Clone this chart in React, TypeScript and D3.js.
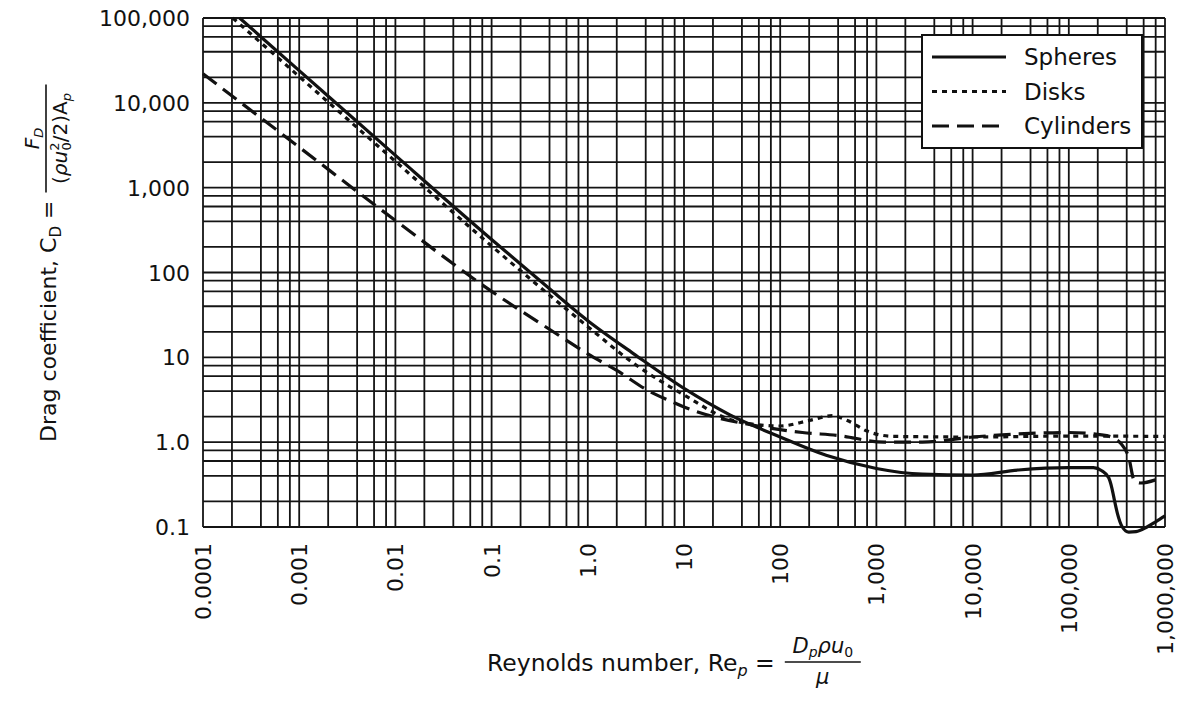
import React, { useEffect, useRef } from 'react';
import * as d3 from 'd3';

const WIDTH = 1185;
const HEIGHT = 711;

// axis ticks
const xTickValues = [1e-4, 1e-3, 1e-2, 1e-1, 1, 10, 100, 1e3, 1e4, 1e5, 1e6];
const xTickLabels = ['0.0001', '0.001', '0.01', '0.1', '1.0', '10', '100', '1,000', '10,000', '100,000', '1,000,000'];
const yTickValues = [0.1, 1, 10, 100, 1e3, 1e4, 1e5];
const yTickLabels = ['0.1', '1.0', '10', '100', '1,000', '10,000', '100,000'];
const gridMultipliers = [1, 2, 4, 6, 8];

// Spheres (solid)
const sphereRe = [2.4e-4, 1e-3, 1e-2, 1e-1, 0.3, 1, 3, 10, 30, 100, 300, 1000, 3000, 1e4, 3e4, 1e5, 1.8e5, 2.2e5, 2.6e5, 2.8e5, 3e5, 3.2e5, 3.6e5, 4.2e5, 5e5, 6.5e5, 8e5, 1e6];
const sphereCd = [100000, 24000, 2400, 245, 85, 27, 11, 4.3, 2.1, 1.15, 0.7, 0.49, 0.42, 0.41, 0.47, 0.5, 0.5, 0.46, 0.38, 0.29, 0.2, 0.145, 0.1, 0.087, 0.088, 0.1, 0.115, 0.135];

// Disks (dotted)
const diskRe = [2.04e-4, 1e-3, 1e-2, 0.1, 1, 3, 10, 30, 60, 100, 200, 350, 500, 800, 1500, 1e4, 1e5, 1e6];
const diskCd = [100000, 20400, 2040, 205, 23, 8.5, 3.6, 1.85, 1.6, 1.55, 1.8, 2.05, 1.8, 1.35, 1.17, 1.15, 1.18, 1.17];

// Cylinders (dashed)
const cylRe = [1e-4, 1e-3, 1e-2, 0.1, 0.41, 1, 2, 4.5, 7, 10, 22, 50, 170, 400, 1200, 3000, 1e4, 5e4, 1e5, 2.2e5, 3e5, 3.5e5, 4.2e5, 4.8e5, 5.6e5, 8e5];
const cylCd = [22000, 3000, 410, 60, 21, 11, 7.0, 3.9, 3.1, 2.6, 1.95, 1.6, 1.3, 1.2, 1.0, 1.0, 1.15, 1.28, 1.3, 1.22, 1.1, 0.96, 0.66, 0.35, 0.33, 0.36];

const FONT = '"DejaVu Sans", sans-serif';
const INK = '#111';

export default function App() {
  const svgRef = useRef<SVGSVGElement | null>(null);

  useEffect(() => {
    if (!svgRef.current) return;
    const svg = d3.select(svgRef.current);
    svg.selectAll('*').remove();

    const x = d3.scaleLog().domain([1e-4, 1e6]).range([203, 1165]);
    const y = d3.scaleLog().domain([0.1, 1e5]).range([527, 18]);

    // grid lines at 1,2,4,6,8 of each decade
    const gridX: number[] = [];
    for (let e = -4; e < 6; e++) gridMultipliers.forEach(m => gridX.push(m * Math.pow(10, e)));
    gridX.push(1e6);
    const gridY: number[] = [];
    for (let e = -1; e < 5; e++) gridMultipliers.forEach(m => gridY.push(m * Math.pow(10, e)));
    gridY.push(1e5);

    const grid = svg.append('g').attr('stroke', '#141414').attr('stroke-width', 1.8);
    grid.selectAll('.vx')
      .data(gridX)
      .enter()
      .append('line')
      .attr('x1', d => x(d)).attr('x2', d => x(d))
      .attr('y1', y(1e5)).attr('y2', y(0.1));
    grid.selectAll('.hy')
      .data(gridY)
      .enter()
      .append('line')
      .attr('y1', d => y(d)).attr('y2', d => y(d))
      .attr('x1', x(1e-4)).attr('x2', x(1e6));

    // tick labels
    svg.append('g')
      .selectAll('text')
      .data(yTickValues)
      .enter()
      .append('text')
      .attr('x', 190)
      .attr('y', d => y(d) + 8)
      .attr('text-anchor', 'end')
      .attr('font-family', FONT)
      .attr('font-size', 22)
      .attr('fill', INK)
      .text((d, i) => yTickLabels[i]);

    svg.append('g')
      .selectAll('text')
      .data(xTickValues)
      .enter()
      .append('text')
      .attr('transform', d => `translate(${x(d) + 8},543) rotate(-90)`)
      .attr('text-anchor', 'end')
      .attr('font-family', FONT)
      .attr('font-size', 22)
      .attr('fill', INK)
      .text((d, i) => xTickLabels[i]);

    // curves
    const line = d3.line<[number, number]>()
      .x(d => x(d[0]))
      .y(d => y(d[1]))
      .curve(d3.curveMonotoneX);

    const series = [
      { name: 'Spheres', re: sphereRe, cd: sphereCd, dash: null as string | null },
      { name: 'Disks', re: diskRe, cd: diskCd, dash: '5,5' },
      { name: 'Cylinders', re: cylRe, cd: cylCd, dash: '17,8' }
    ];

    series.forEach(s => {
      const pts: [number, number][] = s.re.map((r, i) => [r, s.cd[i]]);
      svg.append('path')
        .attr('d', line(pts) || '')
        .attr('fill', 'none')
        .attr('stroke', INK)
        .attr('stroke-width', 3.2)
        .attr('stroke-dasharray', s.dash)
        .attr('stroke-linejoin', 'round');
    });

    // legend
    const lg = svg.append('g');
    lg.append('rect')
      .attr('x', 922).attr('y', 35)
      .attr('width', 220).attr('height', 113)
      .attr('fill', '#fff')
      .attr('stroke', INK)
      .attr('stroke-width', 2);
    series.forEach((s, i) => {
      const ly = 57 + i * 34.5;
      lg.append('line')
        .attr('x1', 932).attr('x2', 1006)
        .attr('y1', ly).attr('y2', ly)
        .attr('stroke', INK)
        .attr('stroke-width', 3.2)
        .attr('stroke-dasharray', s.dash);
      lg.append('text')
        .attr('x', 1024)
        .attr('y', ly + 8)
        .attr('font-family', FONT)
        .attr('font-size', 23)
        .attr('fill', INK)
        .text(s.name);
    });

    // y axis title (rotated) with fraction
    const yt = svg.append('g')
      .attr('transform', 'translate(56,442) rotate(-90)')
      .attr('font-family', FONT)
      .attr('fill', INK);
    const main = yt.append('text').attr('x', 0).attr('y', 0).attr('font-size', 22);
    main.append('tspan').text('Drag coefficient, C');
    main.append('tspan').attr('font-size', 15).attr('dy', 5).text('D');
    main.append('tspan').attr('dy', -5).text(' =');
    const mainLen = (main.node() as SVGTextElement).getComputedTextLength();
    const fx0 = mainLen + 8;
    const fw = 108;
    yt.append('line')
      .attr('x1', fx0).attr('x2', fx0 + fw)
      .attr('y1', -10).attr('y2', -10)
      .attr('stroke', INK).attr('stroke-width', 1.6);
    const num = yt.append('text')
      .attr('x', fx0 + fw / 2).attr('y', -17)
      .attr('text-anchor', 'middle')
      .attr('font-size', 20)
      .attr('font-style', 'italic');
    num.append('tspan').text('F');
    num.append('tspan').attr('font-size', 13).attr('dy', 4).text('D');
    const den = yt.append('text')
      .attr('x', fx0 + fw / 2).attr('y', 11)
      .attr('text-anchor', 'middle')
      .attr('font-size', 20);
    den.append('tspan').text('(');
    den.append('tspan').attr('font-style', 'italic').text('ρu');
    den.append('tspan').attr('font-size', 13).attr('dy', -8).text('2');
    den.append('tspan').attr('font-size', 13).attr('dx', -8).attr('dy', 12).text('0');
    den.append('tspan').attr('dy', -4).text('/2)A');
    den.append('tspan').attr('font-size', 13).attr('dy', 4).attr('font-style', 'italic').text('p');

    // x axis title with fraction
    const xt = svg.append('g')
      .attr('font-family', FONT)
      .attr('fill', INK);
    const xmain = xt.append('text').attr('x', 487).attr('y', 671).attr('font-size', 23.5);
    xmain.append('tspan').text('Reynolds number, Re');
    xmain.append('tspan').attr('font-size', 16).attr('dy', 5).attr('font-style', 'italic').text('p');
    xmain.append('tspan').attr('dy', -5).text(' =');
    const xLen = (xmain.node() as SVGTextElement).getComputedTextLength();
    const gx0 = 487 + xLen + 10;
    const gw = 76;
    xt.append('line')
      .attr('x1', gx0).attr('x2', gx0 + gw)
      .attr('y1', 662).attr('y2', 662)
      .attr('stroke', INK).attr('stroke-width', 1.6);
    const xnum = xt.append('text')
      .attr('x', gx0 + gw / 2).attr('y', 653)
      .attr('text-anchor', 'middle')
      .attr('font-size', 21)
      .attr('font-style', 'italic');
    xnum.append('tspan').text('D');
    xnum.append('tspan').attr('font-size', 14).attr('dy', 4).text('p');
    xnum.append('tspan').attr('dy', -4).text('ρu');
    xnum.append('tspan').attr('font-size', 14).attr('dy', 4).attr('font-style', 'normal').text('0');
    xt.append('text')
      .attr('x', gx0 + gw / 2).attr('y', 684)
      .attr('text-anchor', 'middle')
      .attr('font-size', 21)
      .attr('font-style', 'italic')
      .text('μ');
  }, []);

  return (
    <div style={{ position: 'absolute', left: 0, top: 0, width: WIDTH, height: HEIGHT, background: '#fff' }}>
      <svg ref={svgRef} width={WIDTH} height={HEIGHT}></svg>
    </div>
  );
}
